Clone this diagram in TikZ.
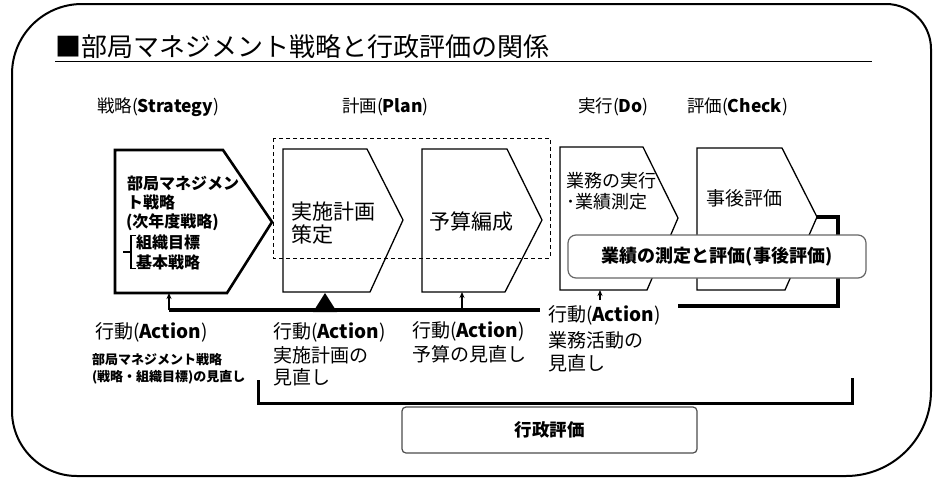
\documentclass[tikz,border=0pt]{standalone}
\usepackage{fontspec}
\setmainfont{Noto Sans CJK JP}
\usetikzlibrary{arrows.meta}
\newcommand{\lat}[1]{\textbf{#1}}
\begin{document}
\begin{tikzpicture}[x=1pt,y=-1pt,
  every node/.style={inner sep=0pt, outer sep=0pt},
  stage/.style={draw=black, line width=1.3pt, fill=white, line join=miter},
  head/.style={anchor=west, font=\fontsize{17.5}{19}\selectfont},
  act/.style={anchor=west, font=\fontsize{19}{21}\selectfont},
  small/.style={anchor=west, font=\bfseries\fontsize{13}{15}\selectfont},
  conn/.style={line width=3.5pt},
  tip/.style={-{Stealth[length=6pt,width=5pt]}, line width=1.2pt},
]
\useasboundingbox (0,0) rectangle (933,479);
% outer frame
\draw[line width=2pt] (12,240) [rounded corners=70] -- (12,4) [rounded corners=45] -- (931,4) [rounded corners=85] -- (931,476) [rounded corners=65] -- (12,476) -- cycle;
% title
\node[anchor=west, font=\fontsize{26}{28}\selectfont] (title) at (55,47) {■部局マネジメント戦略と行政評価の関係};
\coordinate (ulend) at (872,61);
\draw[line width=1pt] (title.west |- ulend) -- (ulend);
% stage headings
\node[head] (hS) at (97,107) {戦略(\lat{Strategy})};
\node[head] (hP) at (342,107) {計画(\lat{Plan})};
\node[head] (hD) at (578,107) {実行(\lat{Do})};
\node[head] (hC) at (687,107) {評価(\lat{Check})};
% stage boxes
\draw[stage, line width=2.6pt] (115,150) -- (223,150) -- (272,222) -- (227,293) -- (115,293) -- cycle;
\draw[stage] (283,149) -- (367,149) -- (403,220) -- (370,292) -- (283,292) -- cycle;
\draw[stage] (422,149) -- (507,149) -- (542,220) -- (505,292) -- (422,292) -- cycle;
\draw[stage] (560,147) -- (643,147) -- (678,218) -- (647,290) -- (560,290) -- cycle;
\draw[stage] (697,148) -- (782,148) -- (817,217) -- (785,290) -- (697,290) -- cycle;
\coordinate (b1b) at (169,293);
\coordinate (b2b) at (325,293);
\coordinate (b3b) at (462,292);
\coordinate (b4b) at (600,290);
\coordinate (b5tip) at (817,217);
% plan group
\draw[line width=1pt, dash pattern=on 4pt off 3pt] (273,138) rectangle (550,258);
% box texts
\node[anchor=west, font=\bfseries\fontsize{16}{18}\selectfont] (s1) at (127,183) {部局マネジメン};
\node[anchor=west, font=\bfseries\fontsize{16}{18}\selectfont] (s2) at (127,202) {ト戦略};
\node[anchor=west, font=\bfseries\fontsize{16}{18}\selectfont] (s3) at (126,222) {(次年度戦略)};
\node[anchor=west, font=\bfseries\fontsize{16}{18}\selectfont] (s4) at (136,242) {組織目標};
\node[anchor=west, font=\bfseries\fontsize{16}{18}\selectfont] (s5) at (136,262) {基本戦略};
\draw[line width=1.5pt] (s4.north west) ++(0,1) -- ++(-5,0) |- ([yshift=1pt]s5.south west);
\draw[line width=1.5pt] (131,252) -- (123,252);
\node[anchor=west, align=left, font=\fontsize{21}{23}\selectfont] (t2) at (291,223) {実施計画\\策定};
\node[anchor=west, font=\fontsize{21}{23}\selectfont] (t3) at (429,222) {予算編成};
\node[anchor=west, align=left, font=\fontsize{18}{21}\selectfont] (t4) at (566,191) {業務の実行\\･業績測定};
\node[anchor=west, font=\fontsize{19}{21}\selectfont] (t5) at (706,198) {事後評価};
% feedback connectors
\coordinate (L1) at (169,310);
\coordinate (L2) at (540,310);
\draw[conn] (L1) -- (L2);
\draw[tip] (L1) -- (b1b);
\fill (b2b) -- ++(-12,19) -- ++(24,0) -- cycle;
\draw[tip] (b3b |- L1) -- (b3b);
\draw[tip] (600,300) -- (b4b);
\draw[conn] (b5tip) -- (838,217) -- (838,306) -- (678,306);
% measurement callout
\node[draw=black!60, line width=1.2pt, rounded corners=8pt, fill=white, minimum width=298pt, minimum height=43pt, font=\bfseries\fontsize{18}{20}\selectfont] (meas) at (717,256.5) {業績の測定と評価(事後評価)};
% action labels
\node[act] (a1) at (95,332) {行動(\lat{Action})};
\node[small] (a1b) at (92,360) {部局マネジメント戦略};
\node[small] (a1c) at (92,377) {(戦略・組織目標)の見直し};
\node[act] (a2) at (273,332) {行動(\lat{Action})};
\node[act] (a2b) at (273,355) {実施計画の};
\node[act] (a2c) at (273,377) {見直し};
\node[act] (a3) at (412,331) {行動(\lat{Action})};
\node[act] (a3b) at (412,354) {予算の見直し};
\node[act] (a4) at (548,315) {行動(\lat{Action})};
\node[act] (a4b) at (548,340) {業務活動の};
\node[act] (a4c) at (548,363) {見直し};
% administrative evaluation
\coordinate (g1) at (258,380);
\coordinate (g2) at (852,378);
\draw[line width=3pt] (g1) -- (258,403) -- (852,403) -- (g2);
\node[draw=black!70, line width=1.2pt, rounded corners=4pt, fill=white, minimum width=295pt, minimum height=46pt, font=\bfseries\fontsize{17.5}{19}\selectfont] (gyo) at (549.5,430) {行政評価};
\end{tikzpicture}
\end{document}
